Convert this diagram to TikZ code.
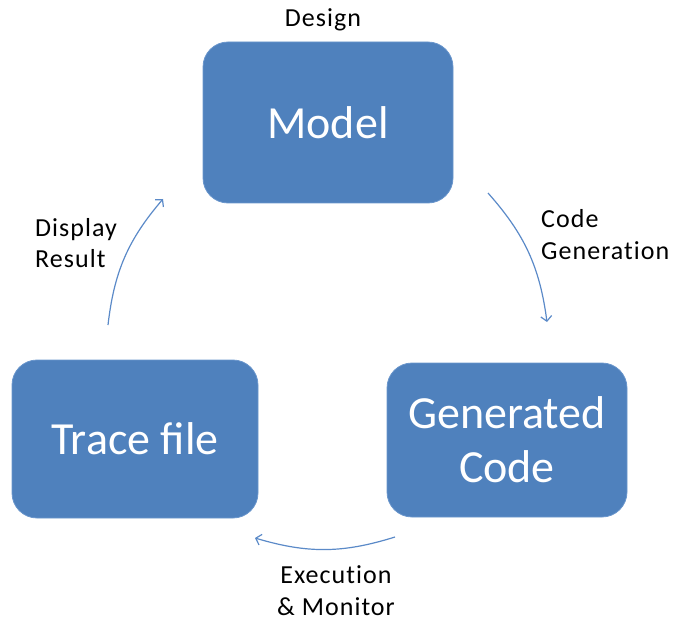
\documentclass[tikz,border=0pt]{standalone}
\usepackage{fontspec}
\setmainfont{Carlito}
\newfontfamily\captionfont[LetterSpace=4,Ligatures=NoCommon]{Carlito}
\usetikzlibrary{arrows.meta}
\definecolor{boxblue}{HTML}{4F81BD}
\definecolor{boxedge}{HTML}{6A96CC}
\definecolor{flowblue}{HTML}{5B8AC8}
\tikzset{
  stagebox/.style={fill=boxblue, draw=boxedge, line width=0.8pt,
    rounded corners=25pt, inner sep=0pt, text=white, align=center,
    font=\fontsize{46}{54}\selectfont},
  caption/.style={text=black, inner sep=0pt,
    font=\captionfont\fontsize{26}{32}\selectfont},
  flow/.style={draw=flowblue, line width=1.2pt,
    -{Straight Barb[length=5pt,width=11pt]}, bend left=17}
}
\begin{document}
\begin{tikzpicture}[x=1pt,y=1pt]
  \useasboundingbox (0,0) rectangle (681,-623);

  % the three stages of the cycle
  \node[stagebox, minimum width=250pt, minimum height=161pt] (model) at (328,-122.5) {Model};
  \node[stagebox, minimum width=240pt, minimum height=154pt] (gen) at (507,-440) {Generated\\Code};
  \node[stagebox, minimum width=246pt, minimum height=158pt] (trace) at (135,-439) {Trace file};

  % captions (base anchor sits on the last line)
  \node[caption, anchor=base] (design) at (323,-27) {Design};
  \node[caption, anchor=base west, align=left] (codegen) at (541,-259) {Code\\Generation};
  \node[caption, anchor=base west, align=left] (display) at (35,-268) {Display\\Result};
  \node[caption, anchor=base, align=center] (exec) at (336,-615) {Execution\\\& Monitor};

  % ends of the cycle arrows
  \coordinate (m2gA) at (488,-193);
  \coordinate (m2gB) at (547,-322);
  \coordinate (g2tA) at (395,-537);
  \coordinate (g2tB) at (255,-538);
  \coordinate (t2mA) at (108,-325);
  \coordinate (t2mB) at (163,-199);

  \draw[flow] (m2gA) to (m2gB);
  \draw[flow] (g2tA) to (g2tB);
  \draw[flow] (t2mA) to (t2mB);
\end{tikzpicture}
\end{document}
